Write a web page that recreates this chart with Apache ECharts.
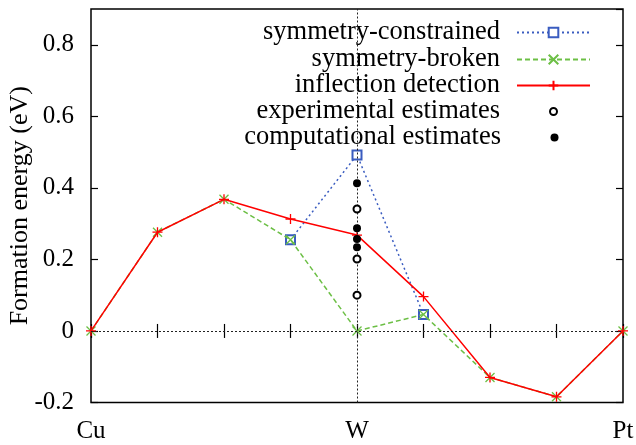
<!DOCTYPE html>
<html>
<head>
<meta charset="utf-8">
<script src="https://cdn.jsdelivr.net/npm/echarts@6/dist/echarts.min.js"></script>
<style>html,body{margin:0;padding:0;background:#fff}#c{width:636px;height:445px}</style>
</head>
<body>
<div id="c"></div>
<script>
const categories = ['Cu', '', '', '', 'W', '', '', '', 'Pt'];
const yTicks = [-0.2, 0, 0.2, 0.4, 0.6, 0.8];
const symConstrained = ['-', '-', '-', 0.255, 0.492, 0.046, '-', '-', '-'];
const symBroken = [0, 0.276, 0.368, 0.255, 0.0, 0.046, -0.130, -0.184, 0];
const inflection = [0, 0.276, 0.368, 0.313, 0.268, 0.096, -0.130, -0.184, 0];
const expEstimates = [0.341, 0.201, 0.100];
const compEstimates = [0.413, 0.287, 0.257, 0.234];
const wIndex = 4;

const FONT = 'Liberation Serif';
const BLUE = '#3a5cc0', GREEN = '#6cbf45', RED = '#ff0000';

const chart = echarts.init(document.getElementById('c'), null, {renderer: 'canvas'});

const legendNames = ['symmetry-constrained', 'symmetry-broken', 'inflection detection', 'experimental estimates', 'computational estimates'];
const rowCenters = [32, 59, 85, 111, 137];
const ICON_CX = 554.5, TEXT_END = 501, W = 636;
const legends = legendNames.map((n, i) => {
  const isLine = i < 3;
  const iw = isLine ? 73 : (i === 3 ? 7 : 8);
  const ih = isLine ? 12 : iw;
  const iconRight = ICON_CX + iw / 2;
  const iconLeft = ICON_CX - iw / 2;
  return {
    data: [n],
    right: W - iconRight,
    top: rowCenters[i] - 13,
    padding: 0,
    align: 'right',
    itemWidth: iw,
    itemHeight: ih,
    selectedMode: false,
    textStyle: {fontFamily: FONT, fontSize: 26.5, color: '#000', lineHeight: 26, padding: [0, iconLeft - 5 - TEXT_END, 0, 0]}
  };
});

const yMin = yTicks[0], yMax = 0.9, yInt = 0.2;
const fmt = v => (v > yTicks[yTicks.length - 1] + 0.05) ? '' : String(+v.toFixed(1));

chart.setOption({
  animation: false,
  backgroundColor: '#fff',
  grid: {left: 91, right: 13, top: 9, bottom: 42.5, show: true, borderColor: '#000', borderWidth: 1.5, backgroundColor: 'transparent', containLabel: false, outerBoundsMode: 'none'},
  legend: legends,
  xAxis: [{
    type: 'category', data: categories, boundaryGap: false, position: 'bottom',
    axisLine: {show: false},
    axisTick: {show: true, inside: true, length: 7, interval: 0, lineStyle: {color: '#000', width: 1.2}},
    axisLabel: {interval: 0, margin: 16, fontFamily: FONT, fontSize: 25, color: '#000'},
    splitLine: {show: false}
  }, {
    type: 'category', data: categories, boundaryGap: false, position: 'top',
    axisLine: {show: false},
    axisTick: {show: true, inside: true, length: 7, interval: 0, lineStyle: {color: '#000', width: 1.2}},
    axisLabel: {show: false}, splitLine: {show: false}
  }],
  yAxis: [{
    type: 'value', min: yMin, max: yMax, interval: yInt, position: 'left',
    name: 'Formation energy (eV)', nameLocation: 'middle', nameGap: 58, nameMoveOverlap: false,
    nameTextStyle: {fontFamily: FONT, fontSize: 26, color: '#000'},
    axisLine: {show: false},
    axisTick: {show: true, inside: true, length: 7, lineStyle: {color: '#000', width: 1.2}},
    axisLabel: {margin: 17, fontFamily: FONT, fontSize: 25, color: '#000', formatter: fmt, showMaxLabel: false},
    splitLine: {show: false}
  }, {
    type: 'value', min: yMin, max: yMax, interval: yInt, position: 'right',
    axisLine: {show: false},
    axisTick: {show: true, inside: true, length: 7, lineStyle: {color: '#000', width: 1.2}},
    axisLabel: {show: false}, splitLine: {show: false}
  }],
  series: [{
    name: 'symmetry-constrained', type: 'line', data: symConstrained, connectNulls: false,
    symbol: 'emptyRect', symbolSize: 9, showAllSymbol: true,
    lineStyle: {color: BLUE, width: 1.5, type: [2, 3]},
    itemStyle: {color: BLUE, borderColor: BLUE, borderWidth: 1.3},
    emphasis: {disabled: true}, z: 2,
    markLine: {
      silent: true, symbol: 'none', label: {show: false},
      lineStyle: {color: '#222', width: 1, type: [2, 2]},
      data: [{yAxis: 0}, {xAxis: wIndex}]
    }
  }, {
    name: 'symmetry-broken', type: 'line', data: symBroken,
    symbol: 'path://M0,0L10,10M10,0L0,10', symbolSize: 9, showAllSymbol: true,
    lineStyle: {color: GREEN, width: 1.5, type: [5, 3]},
    itemStyle: {color: GREEN, borderColor: GREEN, borderWidth: 1.3},
    emphasis: {disabled: true}, z: 3
  }, {
    name: 'inflection detection', type: 'line', data: inflection,
    symbol: 'path://M5,0L5,10M0,5L10,5', symbolSize: 10, showAllSymbol: true,
    lineStyle: {color: RED, width: 1.5},
    itemStyle: {color: RED, borderColor: RED, borderWidth: 1.3},
    emphasis: {disabled: true}, z: 4
  }, {
    name: 'experimental estimates', type: 'scatter',
    data: expEstimates.map(v => [wIndex, v]),
    symbol: 'emptyCircle', symbolSize: 7,
    itemStyle: {color: '#000', borderColor: '#000', borderWidth: 1, opacity: 1},
    emphasis: {disabled: true}, z: 5
  }, {
    name: 'computational estimates', type: 'scatter',
    data: compEstimates.map(v => [wIndex, v]),
    symbol: 'circle', symbolSize: 8,
    itemStyle: {color: '#000', opacity: 1},
    emphasis: {disabled: true}, z: 5
  }]
});
</script>
</body>
</html>
